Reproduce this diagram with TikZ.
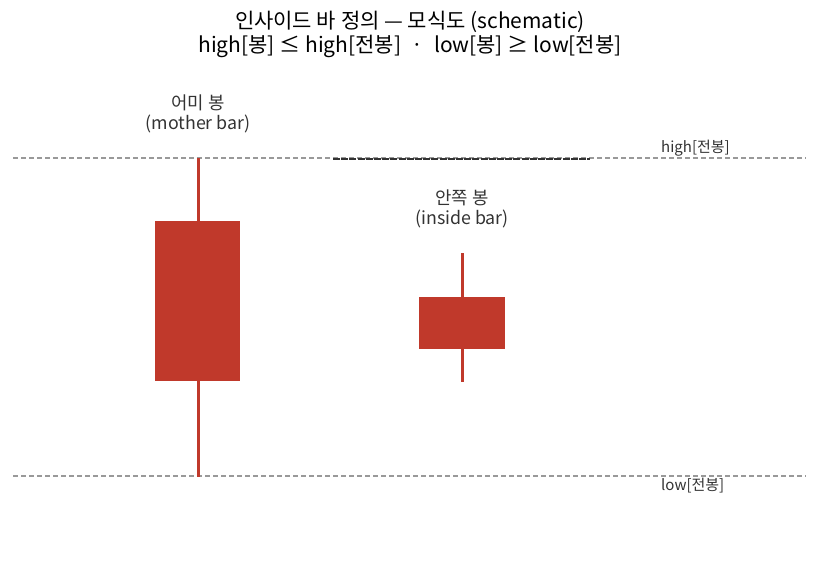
\documentclass[tikz,border=0pt]{standalone}
\usepackage{fontspec}
\setmainfont{Noto Sans CJK KR}
\definecolor{bar}{HTML}{C0392B}
\definecolor{lvl}{HTML}{999999}
\definecolor{txt}{HTML}{333333}
\definecolor{dk}{HTML}{333333}
\begin{document}
\begin{tikzpicture}[x=1pt,y=-1pt,
  lvlline/.style={lvl,line width=1.2pt,dash pattern=on 5pt off 3pt},
  darkline/.style={dk,line width=2pt,dash pattern=on 7pt off 1.2pt},
  wick/.style={bar,line width=3pt},
  body/.style={fill=bar,draw=none,inner sep=0pt,outer sep=0pt},
  lbl/.style={txt,font=\fontsize{17.8}{20.5}\selectfont,align=center,inner sep=0pt},
  lvllbl/.style={txt,font=\fontsize{15}{17}\selectfont,anchor=west,inner sep=0pt},
  ttl/.style={black,font=\fontsize{21}{24}\selectfont,align=center,inner sep=0pt}]
\useasboundingbox (0,0) rectangle (819,584);
% title
\node[ttl] (title) at (410,34) {인사이드 바 정의 — 모식도 (schematic)\\high[봉] ≤ high[전봉]\enspace ·\enspace low[봉] ≥ low[전봉]};
% level lines
\coordinate (hl) at (13,158);
\coordinate (hr) at (806,158);
\coordinate (ll) at (13,476);
\coordinate (lr) at (806,476);
\draw[lvlline] (hl) -- (hr);
\draw[lvlline] (ll) -- (lr);
\coordinate (dl) at (333,158.5);
\coordinate (dr) at (590,158.5);
\draw[darkline] (dl) -- (dr);
\node[lvllbl] (hlbl) at (661,148) {high[전봉]};
\node[lvllbl] (llbl) at (661,486) {low[전봉]};
% mother bar
\coordinate (mt) at (198,158);
\coordinate (mb) at (198,477);
\draw[wick] (mt) -- (mb);
\node[body,minimum width=85pt,minimum height=160pt] (mbody) at (197.5,301) {};
\node[lbl] (mlbl) at (198,114) {어미 봉\\(mother bar)};
% inside bar
\coordinate (it) at (462,253);
\coordinate (ib) at (462,382);
\draw[wick] (it) -- (ib);
\node[body,minimum width=86pt,minimum height=52pt] (ibody) at (462,323) {};
\node[lbl] (ilbl) at (462,209) {안쪽 봉\\(inside bar)};
\end{tikzpicture}
\end{document}
